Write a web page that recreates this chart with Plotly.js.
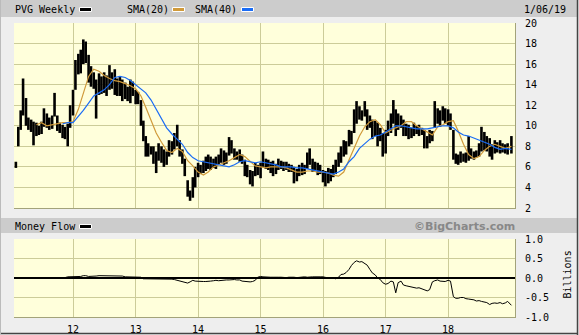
<!DOCTYPE html>
<html>
<head>
<meta charset="utf-8">
<script src="https://cdn.plot.ly/plotly-3.0.1.min.js"></script>
<style>
html,body{margin:0;padding:0;background:#eeeeee;}
#chart{width:579px;height:335px;}
</style>
</head>
<body>
<div id="chart"></div>
<script>
// ---- data (semi-monthly samples) ----
const dates = [
"2011-02-01","2011-02-15","2011-03-01","2011-03-15","2011-04-01","2011-04-15","2011-05-01","2011-05-15","2011-06-01","2011-06-15","2011-07-01","2011-07-15","2011-08-01","2011-08-15","2011-09-01","2011-09-15","2011-10-01","2011-10-15","2011-11-01","2011-11-15","2011-12-01","2011-12-15",
"2012-01-01","2012-01-15","2012-02-01","2012-02-15","2012-03-01","2012-03-15","2012-04-01","2012-04-15","2012-05-01","2012-05-15","2012-06-01","2012-06-15","2012-07-01","2012-07-15","2012-08-01","2012-08-15","2012-09-01","2012-09-15","2012-10-01","2012-10-15","2012-11-01","2012-11-15","2012-12-01","2012-12-15",
"2013-01-01","2013-01-15","2013-02-01","2013-02-15","2013-03-01","2013-03-15","2013-04-01","2013-04-15","2013-05-01","2013-05-15","2013-06-01","2013-06-15","2013-07-01","2013-07-15","2013-08-01","2013-08-15","2013-09-01","2013-09-15","2013-10-01","2013-10-15","2013-11-01","2013-11-15","2013-12-01","2013-12-15",
"2014-01-01","2014-01-15","2014-02-01","2014-02-15","2014-03-01","2014-03-15","2014-04-01","2014-04-15","2014-05-01","2014-05-15","2014-06-01","2014-06-15","2014-07-01","2014-07-15","2014-08-01","2014-08-15","2014-09-01","2014-09-15","2014-10-01","2014-10-15","2014-11-01","2014-11-15","2014-12-01","2014-12-15",
"2015-01-01","2015-01-15","2015-02-01","2015-02-15","2015-03-01","2015-03-15","2015-04-01","2015-04-15","2015-05-01","2015-05-15","2015-06-01","2015-06-15","2015-07-01","2015-07-15","2015-08-01","2015-08-15","2015-09-01","2015-09-15","2015-10-01","2015-10-15","2015-11-01","2015-11-15","2015-12-01","2015-12-15",
"2016-01-01","2016-01-15","2016-02-01","2016-02-15","2016-03-01","2016-03-15","2016-04-01","2016-04-15","2016-05-01","2016-05-15","2016-06-01","2016-06-15","2016-07-01","2016-07-15","2016-08-01","2016-08-15","2016-09-01","2016-09-15","2016-10-01","2016-10-15","2016-11-01","2016-11-15","2016-12-01","2016-12-15",
"2017-01-01","2017-01-15","2017-02-01","2017-02-15","2017-03-01","2017-03-15","2017-04-01","2017-04-15","2017-05-01","2017-05-15","2017-06-01","2017-06-15","2017-07-01","2017-07-15","2017-08-01","2017-08-15","2017-09-01","2017-09-15","2017-10-01","2017-10-15","2017-11-01","2017-11-15","2017-12-01","2017-12-15",
"2018-01-01","2018-01-15","2018-02-01","2018-02-15","2018-03-01","2018-03-15","2018-04-01","2018-04-15","2018-05-01","2018-05-15","2018-06-01","2018-06-15","2018-07-01","2018-07-15","2018-08-01","2018-08-15","2018-09-01","2018-09-15","2018-10-01","2018-10-15","2018-11-01","2018-11-15","2018-12-01","2018-12-15",
"2019-01-06"];

const high = [
6.5,9.9,11.5,14.6,12.7,10.8,10.6,10.4,10.3,10.0,10.4,11.7,11.2,10.8,11.0,13.2,11.0,10.3,10.1,9.9,10.2,12.0,
13.5,16.4,17.0,17.4,18.4,18.2,16.9,15.8,15.2,14.5,15.1,14.8,15.2,14.9,15.9,15.2,15.5,14.6,14.8,14.5,14.2,13.8,14.5,14.3,
13.5,13.3,12.5,10.5,9.0,8.3,8.0,8.0,7.5,8.3,8.0,7.7,7.5,8.6,8.5,9.3,10.1,8.6,7.7,6.8,4.7,3.7,5.0,6.0,
6.4,6.2,6.6,7.0,7.2,7.0,6.8,7.0,7.2,7.8,7.6,7.4,8.9,8.6,7.8,7.5,7.7,7.2,6.7,6.2,5.7,5.6,6.4,6.2,
6.4,7.5,6.8,6.7,6.5,6.6,6.3,6.8,6.6,6.5,6.5,6.3,6.2,6.0,5.8,6.2,6.4,6.2,7.4,7.8,6.8,6.5,6.4,6.2,
5.7,5.6,5.9,5.8,6.2,6.7,7.4,8.0,8.6,8.5,9.6,9.5,11.6,12.4,11.9,11.5,12.4,11.6,11.0,10.6,10.5,10.3,9.8,9.3,
9.6,10.5,11.2,12.5,11.6,11.2,11.0,10.6,10.2,10.1,9.8,10.3,10.0,10.1,9.8,9.6,9.0,9.6,9.5,12.4,11.7,11.5,11.9,11.7,
11.6,11.2,9.6,7.3,7.2,7.5,7.3,7.4,9.0,7.8,7.5,7.6,8.3,9.9,9.4,9.0,8.8,8.2,8.6,8.4,8.6,8.3,8.2,8.3,
9.0];

const low = [
5.9,8.0,9.6,11.0,10.0,9.6,9.4,8.1,9.0,9.1,9.2,9.9,9.8,9.6,9.7,10.9,9.5,9.3,8.8,8.7,8.0,9.8,
11.0,13.5,15.0,15.1,16.0,16.1,14.2,13.8,13.6,10.7,13.0,13.1,13.2,12.9,13.5,13.6,13.0,12.9,12.9,12.4,12.6,12.4,12.2,12.9,
12.1,12.1,10.0,8.5,7.0,7.0,7.2,6.3,5.4,6.6,6.4,6.0,6.2,7.0,7.2,7.7,8.0,7.0,6.3,5.1,3.1,2.7,3.0,4.0,
5.0,5.3,5.4,5.6,5.8,5.7,5.9,5.8,6.2,6.4,6.2,6.3,7.1,7.3,6.7,6.7,6.5,6.3,5.1,5.0,4.3,4.1,5.1,5.2,
4.9,6.0,5.8,5.7,5.4,5.1,5.3,5.7,5.8,5.6,5.7,5.5,5.5,4.4,4.6,5.1,5.2,5.3,5.8,6.2,5.5,5.6,5.2,5.3,
4.5,4.1,4.4,4.6,5.0,5.3,6.0,6.4,7.0,7.2,8.0,8.2,9.3,10.2,10.6,10.5,10.9,9.6,9.8,8.7,9.0,8.0,8.5,7.0,
7.3,9.0,9.3,10.2,9.0,9.6,9.8,9.0,9.0,8.7,8.8,9.0,9.2,9.0,9.1,7.8,7.8,8.3,8.5,9.8,10.2,9.9,10.5,10.2,
10.0,9.6,6.7,6.3,6.2,6.4,6.5,6.4,6.6,6.8,6.7,6.9,7.0,7.5,7.6,7.5,7.0,6.7,7.3,7.4,7.3,7.4,7.3,7.2,
7.3];

const moneyFlow = [
null,null,null,null,null,null,null,null,null,null,null,null,null,null,null,0.0,0.0,0.0,0.01,0.01,0.03,0.03,
0.03,0.03,0.03,0.04,0.06,0.06,0.04,0.04,0.04,0.05,0.06,0.06,0.06,0.06,0.06,0.06,0.06,0.06,0.06,0.05,0.03,0.03,0.03,0.03,
0.03,0.03,0.02,-0.02,-0.02,-0.02,-0.02,-0.02,-0.02,-0.02,-0.02,-0.02,-0.02,-0.02,-0.03,-0.04,-0.06,-0.07,-0.10,-0.11,-0.13,-0.10,-0.06,-0.08,
-0.09,-0.09,-0.09,-0.09,-0.09,-0.08,-0.07,-0.06,-0.07,-0.06,-0.06,-0.05,-0.05,-0.04,-0.04,-0.05,-0.05,-0.08,-0.09,-0.09,-0.10,-0.09,-0.06,0.02,
0.04,0.03,0.02,0.01,0.02,0.02,0.01,0.02,0.02,0.01,0.01,0.02,0.01,0.02,0.01,0.02,0.03,0.03,0.02,0.03,0.03,0.03,0.02,0.03,
0.03,0.01,0.0,0.01,0.01,-0.02,0.02,0.09,0.10,0.14,0.22,0.32,0.40,0.44,0.41,0.42,0.38,0.33,0.22,0.13,0.08,0.0,-0.04,-0.12,
-0.16,-0.14,-0.08,-0.10,-0.38,-0.12,-0.08,-0.18,-0.20,-0.21,-0.22,-0.24,-0.26,-0.25,-0.28,-0.29,-0.33,-0.30,-0.10,-0.07,-0.05,-0.08,-0.08,-0.09,
-0.06,-0.08,-0.48,-0.52,-0.52,-0.50,-0.50,-0.53,-0.54,-0.55,-0.56,-0.59,-0.58,-0.60,-0.62,-0.63,-0.68,-0.65,-0.64,-0.65,-0.63,-0.66,-0.64,-0.60,
-0.70];

// monthly samples of the moving averages
const smaDates = [
"2011-02-01","2011-03-01","2011-04-01","2011-05-01","2011-06-01","2011-07-01","2011-08-01","2011-09-01","2011-10-01","2011-11-01","2011-12-01",
"2012-01-01","2012-02-01","2012-03-01","2012-04-01","2012-05-01","2012-06-01","2012-07-01","2012-08-01","2012-09-01","2012-10-01","2012-11-01","2012-12-01",
"2013-01-01","2013-02-01","2013-03-01","2013-04-01","2013-05-01","2013-06-01","2013-07-01","2013-08-01","2013-09-01","2013-10-01","2013-11-01","2013-12-01",
"2014-01-01","2014-02-01","2014-03-01","2014-04-01","2014-05-01","2014-06-01","2014-07-01","2014-08-01","2014-09-01","2014-10-01","2014-11-01","2014-12-01",
"2015-01-01","2015-02-01","2015-03-01","2015-04-01","2015-05-01","2015-06-01","2015-07-01","2015-08-01","2015-09-01","2015-10-01","2015-11-01","2015-12-01",
"2016-01-01","2016-02-01","2016-03-01","2016-04-01","2016-05-01","2016-06-01","2016-07-01","2016-08-01","2016-09-01","2016-10-01","2016-11-01","2016-12-01",
"2017-01-01","2017-02-01","2017-03-01","2017-04-01","2017-05-01","2017-06-01","2017-07-01","2017-08-01","2017-09-01","2017-10-01","2017-11-01","2017-12-01",
"2018-01-01","2018-02-01","2018-03-01","2018-04-01","2018-05-01","2018-06-01","2018-07-01","2018-08-01","2018-09-01","2018-10-01","2018-11-01","2018-12-01",
"2019-01-06"];

const sma20 = [
null,null,null,null,10.1,10.3,10.0,10.1,10.2,10.3,10.3,
10.4,11.6,13.2,14.8,15.5,15.3,14.9,14.6,14.4,14.3,14.1,13.9,
13.6,12.9,11.8,10.5,9.3,8.4,7.6,7.4,7.8,7.5,6.6,6.1,
5.5,5.2,5.5,6.0,6.2,6.4,6.6,6.9,7.2,7.0,6.5,6.1,
6.0,5.9,6.0,6.0,6.0,5.9,5.7,5.5,5.5,5.6,5.6,5.5,
5.5,5.4,5.2,5.1,5.5,6.7,7.9,9.0,9.9,10.4,10.6,10.1,
9.3,9.6,9.8,10.0,10.4,10.4,10.0,9.7,9.4,9.1,9.9,10.1,
10.4,10.5,9.5,8.2,7.2,6.8,7.0,7.6,8.0,8.2,8.0,7.8,
8.0];

const sma40 = [
null,null,null,null,null,null,null,null,null,10.2,10.3,
10.3,10.9,11.5,12.2,12.9,13.2,13.5,14.0,14.7,14.8,14.7,14.4,
14.0,13.6,13.2,12.5,11.6,10.6,9.8,9.2,8.7,8.2,7.4,6.9,
6.6,6.5,6.4,6.3,6.2,6.1,6.0,6.2,6.5,6.6,6.5,6.4,
6.5,6.4,6.3,6.2,6.0,6.0,6.0,5.9,5.9,5.8,5.7,5.6,
5.5,5.4,5.3,5.5,5.8,6.5,7.0,7.8,8.3,8.7,9.0,9.1,
9.4,9.7,10.0,10.0,9.9,9.8,9.7,9.7,9.7,9.8,9.9,10.0,
10.0,9.8,9.4,9.1,9.0,8.8,8.6,8.4,8.2,7.9,7.7,7.8,
7.7];

const yearTicks = ["2012-01-01","2013-01-01","2014-01-01","2015-01-01","2016-01-01","2017-01-01","2018-01-01"];
const yearLabels = ["12","13","14","15","16","17","18"];
const priceTicks = [2,4,6,8,10,12,14,16,18,20];
const mfTicks = [-1,-0.5,0,0.5,1];
const mfLabels = ["-1.0","-0.5","0.0","0.5","1.0"];

// ---- build high-low bar segments ----
const segX = [], segY = [];
for (let i = 0; i < dates.length; i++) {
  segX.push(dates[i], dates[i], null);
  segY.push(low[i], high[i], null);
}

// ---- layout helpers (pixel -> paper) ----
const W = 579, H = 335, ML = 14, MR = 64, MT = 23, MB = 18;
const PW = W - ML - MR, PH = H - MT - MB;
const px = p => (p - ML) / PW;
const py = p => (H - MB - p) / PH;

const mono = "DejaVu Sans Mono, monospace";
const gridC = "#cccc99";

const traces = [
  {x: segX, y: segY, type: "scatter", mode: "lines", line: {color: "#000000", width: 2.6}, xaxis: "x", yaxis: "y", hoverinfo: "skip", connectgaps: false},
  {x: smaDates, y: sma20, type: "scatter", mode: "lines", line: {color: "#d09a3a", width: 1.2}, xaxis: "x", yaxis: "y"},
  {x: smaDates, y: sma40, type: "scatter", mode: "lines", line: {color: "#1a6cf5", width: 1.2}, xaxis: "x", yaxis: "y"},
  {x: dates, y: moneyFlow, type: "scatter", mode: "lines", line: {color: "#000000", width: 1}, xaxis: "x2", yaxis: "y2"}
];

const xCommon = {
  type: "date", range: ["2011-01-21", "2019-01-27"],
  tickvals: yearTicks, ticktext: yearLabels,
  showgrid: true, gridcolor: gridC, gridwidth: 1,
  zeroline: false, showline: true, linecolor: "#a3a37a", linewidth: 1,
  ticks: "", tickfont: {family: mono, size: 10, color: "#000"}
};

const layout = {
  width: W, height: H,
  margin: {l: ML, r: MR, t: MT, b: MB, pad: 0},
  paper_bgcolor: "#eeeeee", plot_bgcolor: "#ffffdb",
  showlegend: false,
  xaxis: Object.assign({}, xCommon, {anchor: "y", showticklabels: false}),
  xaxis2: Object.assign({}, xCommon, {anchor: "y2", matches: "x", showticklabels: true, ticklabelstandoff: 3}),
  yaxis: {
    domain: [py(208), 1], range: [2, 20], side: "right",
    tickvals: priceTicks, ticktext: priceTicks.map(String),
    showgrid: true, gridcolor: gridC, zeroline: false,
    showline: true, linecolor: "#a3a37a",
    ticks: "", ticklabelstandoff: 7,
    tickfont: {family: mono, size: 10, color: "#000"}
  },
  yaxis2: {
    domain: [0, py(239)], range: [-1, 1], side: "right",
    tickvals: mfTicks, ticktext: mfLabels,
    showgrid: true, gridcolor: gridC,
    zeroline: true, zerolinecolor: "#000000", zerolinewidth: 1.5,
    showline: true, linecolor: "#a3a37a",
    ticks: "", ticklabelstandoff: 7,
    tickfont: {family: mono, size: 10, color: "#000"}
  },
  shapes: [
    {type: "rect", xref: "paper", yref: "paper", x0: px(1), x1: px(577), y0: py(17), y1: py(0), fillcolor: "#cccccc", line: {width: 0}, layer: "below"},
    {type: "rect", xref: "paper", yref: "paper", x0: px(1), x1: px(577), y0: py(233), y1: py(218), fillcolor: "#cccccc", line: {width: 0}, layer: "below"},
    {type: "rect", xref: "paper", yref: "paper", x0: px(79.5), x1: px(91.5), y0: py(11.5), y1: py(7.5), fillcolor: "#000000", line: {color: "#ffffff", width: 1}},
    {type: "rect", xref: "paper", yref: "paper", x0: px(172.5), x1: px(184.5), y0: py(11.5), y1: py(7.5), fillcolor: "#d09a3a", line: {color: "#ffffff", width: 1}},
    {type: "rect", xref: "paper", yref: "paper", x0: px(241.5), x1: px(253.5), y0: py(11.5), y1: py(7.5), fillcolor: "#1a6cf5", line: {color: "#ffffff", width: 1}},
    {type: "rect", xref: "paper", yref: "paper", x0: px(79.5), x1: px(91.5), y0: py(228.5), y1: py(224.5), fillcolor: "#000000", line: {color: "#ffffff", width: 1}},
    {type: "line", xref: "paper", yref: "paper", x0: px(577.5), x1: px(577.5), y0: py(0), y1: py(335), line: {color: "#444444", width: 1.5}},
    {type: "line", xref: "paper", yref: "paper", x0: px(0), x1: px(578), y0: py(333.5), y1: py(333.5), line: {color: "#444444", width: 1.5}},
    {type: "line", xref: "paper", yref: "paper", x0: px(0.5), x1: px(0.5), y0: py(0), y1: py(334), line: {color: "#bbbbbb", width: 1}}
  ],
  annotations: [
    {text: "PVG Weekly", xref: "paper", yref: "paper", x: px(13), y: py(9.5), xanchor: "left", yanchor: "middle", showarrow: false, font: {family: mono, size: 10, color: "#000"}},
    {text: "SMA(20)", xref: "paper", yref: "paper", x: px(125), y: py(9.5), xanchor: "left", yanchor: "middle", showarrow: false, font: {family: mono, size: 10, color: "#000"}},
    {text: "SMA(40)", xref: "paper", yref: "paper", x: px(193), y: py(9.5), xanchor: "left", yanchor: "middle", showarrow: false, font: {family: mono, size: 10, color: "#000"}},
    {text: "1/06/19", xref: "paper", yref: "paper", x: px(522), y: py(9.5), xanchor: "left", yanchor: "middle", showarrow: false, font: {family: mono, size: 10, color: "#000"}},
    {text: "Money Flow", xref: "paper", yref: "paper", x: px(13), y: py(226), xanchor: "left", yanchor: "middle", showarrow: false, font: {family: mono, size: 10, color: "#000"}},
    {text: "<b>©BigCharts.com</b>", xref: "paper", yref: "paper", x: px(517), y: py(226.5), xanchor: "right", yanchor: "middle", showarrow: false, font: {family: "DejaVu Sans, sans-serif", size: 11, color: "#888888"}},
    {text: "Billions", xref: "paper", yref: "paper", x: px(566.5), y: py(275), xanchor: "center", yanchor: "middle", textangle: -90, showarrow: false, font: {family: mono, size: 10, color: "#000"}}
  ]
};

Plotly.newPlot("chart", traces, layout, {staticPlot: true, displayModeBar: false});
</script>
</body>
</html>
